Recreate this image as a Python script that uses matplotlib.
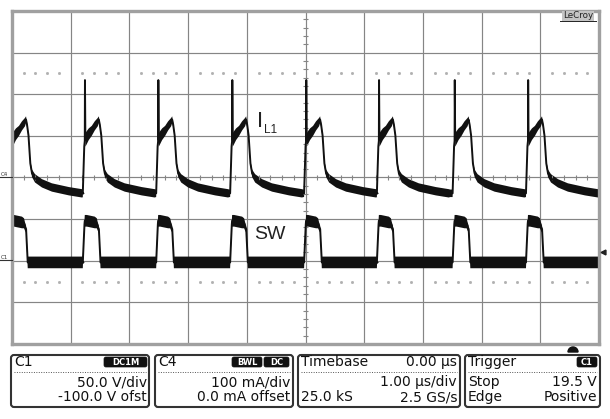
import matplotlib
matplotlib.use("Agg")
import matplotlib.pyplot as plt
import numpy as np
from matplotlib.patches import FancyBboxPatch, Wedge

# scope settings: 1 div = 1 us, C4 = 100 mA/div (centre), C1 = 50 V/div (ground 2 div below centre)
MA_PER_DIV = 100
V_PER_DIV = 50
C1_GROUND_DIV = -2

# switching instants (us)
spike_times = [0.0, 1.24, 2.49, 3.75, 5.01, 6.25, 7.54, 8.79, 10.03]

# one switching period of the inductor current, time relative to the spike (us)
il_t = [-0.034, -0.009, 0.0, 0.003, 0.010, 0.026, 0.068, 0.119, 0.170, 0.221,
        0.239, 0.256, 0.281, 0.312, 0.341, 0.392, 0.511, 0.681, 0.971, 1.19, 1.215]
il_ma = [-38, 75, 88, 234, 90, 94, 104, 112, 124, 133,
         139, 127, 101, 34, 10, -2, -14, -24, -33, -38, -38]
il_noise = [9, 8, 8, 0, 16, 16, 14, 12, 11, 10,
            8, 6, 5, 6, 9, 10, 10, 10, 10, 10, 9]

# one period of the switch node voltage
sw_t = [-0.034, -0.005, 0.0, 0.034, 0.17, 0.205, 0.222, 0.24, 0.268, 0.6, 1.215]
sw_v = [-2, 44, 48, 48, 46, 45, 41, 38, -2, -2, -2]
sw_noise = [7, 5, 7, 7, 7, 6, 5, 4, 7, 7, 7]


def tile(times, prof_t, *cols):
    t = np.concatenate([ts + np.asarray(prof_t, float) for ts in times])
    return t, [np.tile(np.asarray(c, float), len(times)) for c in cols]


fig = plt.figure(figsize=(6.1, 4.19), dpi=100)
ax = fig.add_axes([12 / 610, 1 - 344 / 419, 587 / 610, 333 / 419])
ax.set_xlim(0, 10)
ax.set_ylim(-4, 4)
ax.set_xticks(range(11))
ax.set_yticks(range(-4, 5))
ax.tick_params(length=0, labelbottom=False, labelleft=False)
ax.grid(color="#858585", lw=0.85)
ax.set_axisbelow(True)
for sp in ax.spines.values():
    sp.set_color("#a0a0a0")
    sp.set_linewidth(2.4)

# dotted rows and centre-line ticks
minor = np.array([v for v in np.arange(0.2, 10, 0.2) if abs(v - round(v)) > 0.05])
for yy in (2.5, -2.5):
    ax.plot(minor, np.full_like(minor, yy), ls="none", marker="s", ms=1.0, color="#b0b0b0")
ax.vlines(minor, -0.05, 0.05, color="#858585", lw=0.8)
yminor = np.array([v for v in np.arange(-3.8, 4, 0.2) if abs(v - round(v)) > 0.05])
ax.hlines(yminor, 4.95, 5.05, color="#858585", lw=0.8)

# traces
t, (ia, ib) = tile(spike_times, il_t, il_ma, il_noise)
y, b = ia / MA_PER_DIV, ib / MA_PER_DIV
ax.fill_between(t, y - b, y + b, color="#111111", lw=0)
ax.plot(t, y, color="#111111", lw=1.4)

t, (va, vb) = tile(spike_times, sw_t, sw_v, sw_noise)
y, b = C1_GROUND_DIV + va / V_PER_DIV, vb / V_PER_DIV
ax.fill_between(t, y - b, y + b, color="#111111", lw=0)
ax.plot(t, y, color="#111111", lw=1.4)

ax.text(4.22, 1.34, "I", fontsize=16, family="Liberation Sans", color="#222222",
        ha="center", va="center")
ax.text(4.40, 1.13, "L1", fontsize=8.5, family="Liberation Sans", color="#222222",
        ha="center", va="center")
ax.text(4.39, -1.37, "SW", fontsize=14, family="Liberation Sans", color="#222222",
        ha="center", va="center")

# overlay in pixel coordinates for the scope furniture
ov = fig.add_axes([0, 0, 1, 1], zorder=5)
ov.set_xlim(0, 610)
ov.set_ylim(419, 0)
ov.axis("off")
ov.patch.set_alpha(0)

# channel markers
ov.text(1, 174, "C4", fontsize=4, color="#333333", va="center")
ov.plot([0, 12], [177, 177], color="#333333", lw=0.8)
ov.text(1, 257, "C1", fontsize=4, color="#333333", va="center")
ov.plot([0, 12], [260, 260], color="#333333", lw=0.8)
ov.plot(603, 252, marker="<", ms=3.5, color="#222222")
ov.add_patch(Wedge((573, 352), 5, 180, 360, color="#111111"))

# LeCroy logo
ov.text(578, 16, "LeCroy", fontsize=6.3, family="DejaVu Sans", ha="center", va="center",
        color="#222222", bbox=dict(fc="#c4c4c4", ec="none", pad=0.6))
ov.plot([560, 596], [21, 21], color="#222222", lw=0.7)

font = dict(fontsize=10, family="DejaVu Sans", color="#111111", va="center")
boxes = [(11, 149), (155, 293), (298, 460), (465, 600)]
for x0, x1 in boxes:
    ov.add_patch(FancyBboxPatch((x0, 355), x1 - x0, 52, boxstyle="round,pad=0,rounding_size=3",
                                fc="white", ec="#333333", lw=1.5))
    ov.plot([x0 + 3, x1 - 3], [372, 372], ls=(0, (1, 1.5)), color="#555555", lw=0.7)


def badge(x0, x1, label):
    ov.add_patch(FancyBboxPatch((x0, 357), x1 - x0, 10, boxstyle="round,pad=0,rounding_size=2",
                                fc="#111111", ec="#111111", lw=0.5))
    ov.text((x0 + x1) / 2, 362.3, label, fontsize=6, family="DejaVu Sans", weight="bold",
            color="white", ha="center", va="center")


ov.text(14, 362, "C1", **font)
badge(104, 147, "DC1M")
ov.text(147, 382, "50.0 V/div", ha="right", **font)
ov.text(147, 397, "-100.0 V ofst", ha="right", **font)

ov.text(158, 362, "C4", **font)
badge(232, 262, "BWL")
badge(264, 289, "DC")
ov.text(290, 382, "100 mA/div", ha="right", **font)
ov.text(290, 397, "0.0 mA offset", ha="right", **font)

ov.text(301, 362, "Timebase", **font)
ov.text(457, 362, "0.00 \u00b5s", ha="right", **font)
ov.text(457, 382, "1.00 \u00b5s/div", ha="right", **font)
ov.text(301, 397, "25.0 kS", **font)
ov.text(457, 397, "2.5 GS/s", ha="right", **font)

ov.text(468, 362, "Trigger", **font)
badge(577, 597, "C1")
ov.text(468, 382, "Stop", **font)
ov.text(597, 382, "19.5 V", ha="right", **font)
ov.text(468, 397, "Edge", **font)
ov.text(597, 397, "Positive", ha="right", **font)

fig.savefig("out.png", dpi=100)
